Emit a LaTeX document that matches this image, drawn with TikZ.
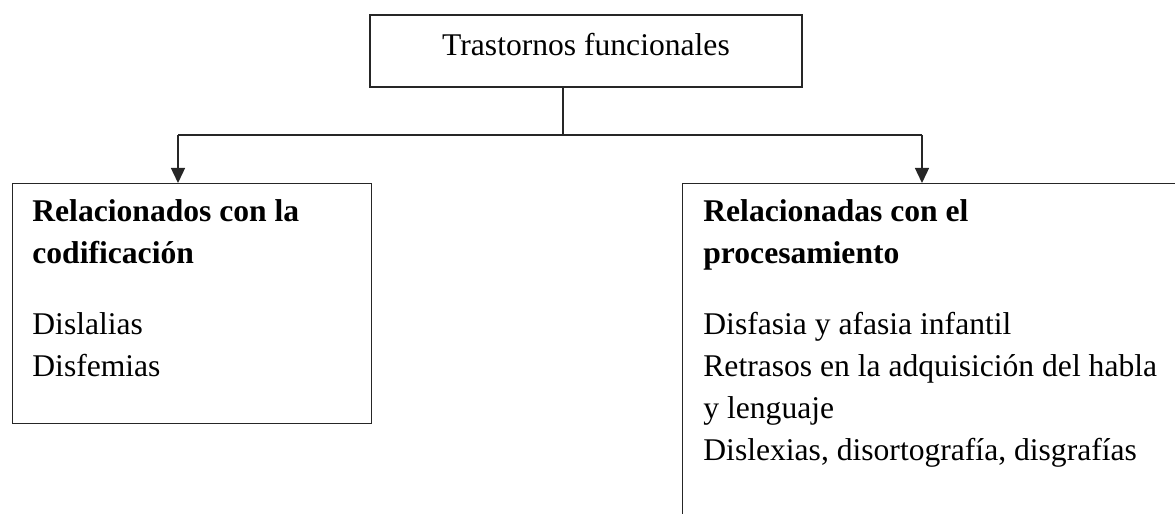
\documentclass[tikz,border=0pt]{standalone}
\usepackage{fontspec}
\setmainfont{Liberation Serif}
\usetikzlibrary{arrows.meta}

\begin{document}
\begin{tikzpicture}[x=0.5pt, y=0.5pt,
  box/.style={draw=black!85,line width=0.7pt,rectangle,inner sep=0pt},
  link/.style={draw=black!85,line width=0.7pt},
  arr/.style={link,-{Triangle[length=7.5pt,width=7pt]}},
  txt/.style={anchor=base west,inner sep=0pt,font=\fontsize{15.8pt}{21pt}\selectfont}]
\useasboundingbox (0,0) rectangle (1175,514);

\node[box,minimum width=216pt,minimum height=36pt,text height=12pt,text depth=7pt,
  font=\fontsize{15.8pt}{21pt}\selectfont] (top) at (586,463) {Trastornos funcionales};
\node[box,anchor=north west,minimum width=179.5pt,minimum height=120pt] (codif) at (12,331) {};
\node[box,anchor=north west,minimum width=254pt,minimum height=173.5pt] (proces) at (682,331) {};

\node[txt] (codiftxt) at (32,292) {\parbox[t]{170pt}{\raggedright
  {\bfseries Relacionados con la\\ codificación}\\[14.5pt]
  Dislalias\\ Disfemias}};
\node[txt] (procestxt) at (703,292) {\parbox[t]{240pt}{\raggedright
  {\bfseries Relacionadas con el\\ procesamiento}\\[14.5pt]
  Disfasia y afasia infantil\\ Retrasos en la adquisición del habla\\
  y lenguaje\\ Dislexias, disortografía, disgrafías}};

% branching
\coordinate (hub) at (563,379);
\coordinate (lsplit) at (178,379);
\coordinate (rsplit) at (922,379);
\draw[link] (top.south -| hub) -- (hub);
\draw[link] (lsplit) -- (rsplit);
\draw[arr] (lsplit) -- (lsplit |- codif.north);
\draw[arr] (rsplit) -- (rsplit |- proces.north);
\end{tikzpicture}
\end{document}
